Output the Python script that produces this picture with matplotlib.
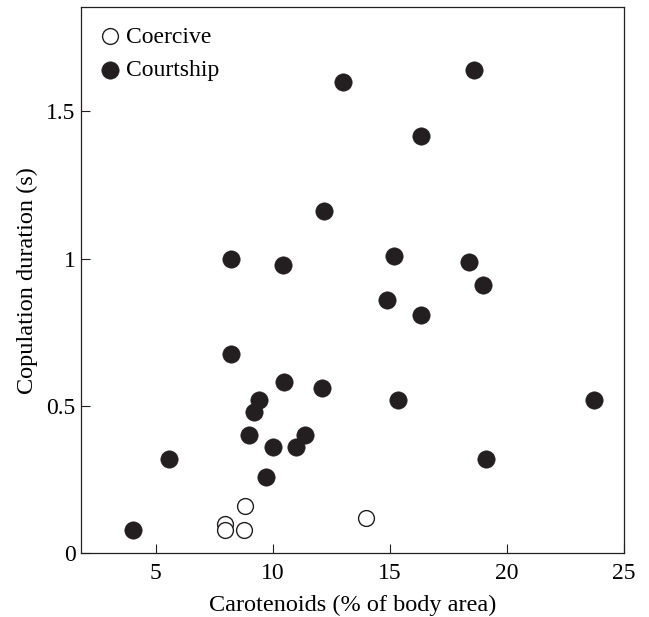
import numpy as np
import matplotlib
matplotlib.use("Agg")
import matplotlib.pyplot as plt
from matplotlib.ticker import FuncFormatter

plt.rcParams['font.family'] = ['Liberation Serif', 'DejaVu Serif']

# coercive matings (open circles)
coercive_x = [7.95, 7.95, 8.75, 8.8, 14.0]
coercive_y = [0.10, 0.08, 0.08, 0.16, 0.12]

# courtship matings (filled circles)
courtship_x = [4.03, 5.55, 8.2, 8.2, 9.0, 9.2, 9.43, 9.7, 10.0, 10.45,
               10.5, 11.0, 11.4, 12.1, 12.2, 13.0, 14.9, 15.17, 15.35,
               16.35, 16.36, 18.4, 18.6, 19.0, 19.1, 23.75]
courtship_y = [0.08, 0.32, 1.0, 0.675, 0.40, 0.48, 0.52, 0.26, 0.36, 0.98,
               0.58, 0.36, 0.40, 0.56, 1.16, 1.60, 0.86, 1.01, 0.52,
               0.81, 1.415, 0.99, 1.64, 0.91, 0.32, 0.52]

x_ticks = [5, 10, 15, 20, 25]
y_ticks = [0, 0.5, 1, 1.5]

ink = '#231f20'

fig = plt.figure(figsize=(6.49, 6.17), dpi=100)
ax = fig.add_axes([0.1248, 0.1032, 0.8367, 0.8850])

ax.scatter(coercive_x, coercive_y, s=130, facecolors='white', edgecolors=ink,
           linewidths=1.0, label='Coercive', zorder=3)
ax.scatter(courtship_x, courtship_y, s=155, facecolors=ink, edgecolors=ink,
           linewidths=0.5, label='Courtship', zorder=3)

ax.set_xlim(1.8, 25.02)
ax.set_ylim(0, 1.853)
ax.set_xticks(x_ticks)
ax.set_yticks(y_ticks)
ax.yaxis.set_major_formatter(FuncFormatter(lambda v, p: ('%g' % v)))

ax.tick_params(direction='in', length=6.5, width=0.8, color=ink,
               labelsize=17, top=False, right=False)
ax.tick_params(axis='x', pad=7)
ax.tick_params(axis='y', pad=4)
for sp in ax.spines.values():
    sp.set_linewidth(0.9)
    sp.set_color(ink)

ax.set_xlabel('Carotenoids (% of body area)', fontsize=17.5, labelpad=7.5)
ax.set_ylabel('Copulation duration (s)', fontsize=17.5, labelpad=6)

ax.legend(loc='upper left', bbox_to_anchor=(-0.004, 0.996), frameon=False,
          fontsize=17, handletextpad=0.1, labelspacing=0.5,
          borderaxespad=0.3, handlelength=1.2)

fig.savefig('out.png', dpi=100)
